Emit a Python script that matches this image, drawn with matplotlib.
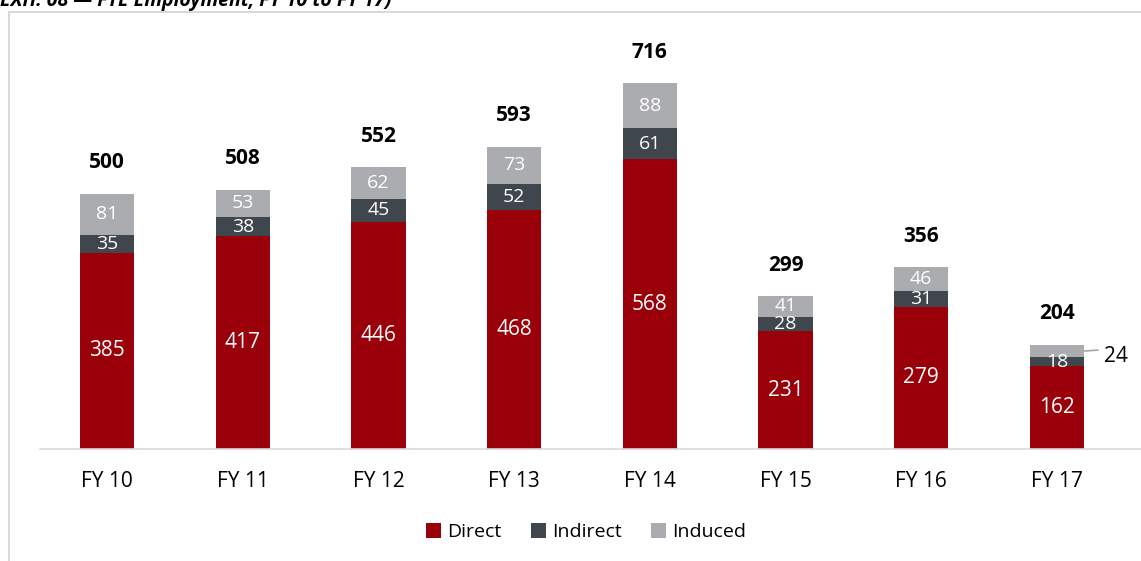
import numpy as np
import matplotlib
matplotlib.use('Agg')
import matplotlib.pyplot as plt
from matplotlib.patches import Rectangle

years = ['FY 10', 'FY 11', 'FY 12', 'FY 13', 'FY 14', 'FY 15', 'FY 16', 'FY 17']
direct = [385, 417, 446, 468, 568, 231, 279, 162]
indirect = [35, 38, 45, 52, 61, 28, 31, 18]
induced = [81, 53, 62, 73, 88, 41, 46, 24]
totals = [500, 508, 552, 593, 716, 299, 356, 204]

c_direct = '#9A0009'
c_indirect = '#3F464E'
c_induced = '#ABACAF'

plt.rcParams['font.family'] = ['Open Sans', 'DejaVu Sans']

W, H = 1141, 561
fig = plt.figure(figsize=(W / 100, H / 100), dpi=100)

# axes placed in pixel terms: baseline at y=449, left edge x=40
ax = fig.add_axes([40 / W, (H - 449) / H, (W - 40) / W, (449 - 12) / H])
x = np.arange(len(years))
w = 0.40
d = np.array(direct)
i_ = np.array(indirect)
n = np.array(induced)

ax.bar(x, d, w, color=c_direct, label='Direct')
ax.bar(x, i_, w, bottom=d, color=c_indirect, label='Indirect')
ax.bar(x, n, w, bottom=d + i_, color=c_induced, label='Induced')

ax.set_xlim(-0.494, 7.619)
ax.set_ylim(0, 857)

fs = 14
for k in range(len(years)):
    ax.text(x[k], d[k] / 2, str(direct[k]), ha='center', va='center',
            color='white', fontsize=fs + 1)
    ax.text(x[k], d[k] + i_[k] / 2, str(indirect[k]), ha='center', va='center',
            color='white', fontsize=fs)
    if k < len(years) - 1:
        ax.text(x[k], d[k] + i_[k] + n[k] / 2, str(induced[k]), ha='center',
                va='center', color='white', fontsize=fs)
    ax.text(x[k], totals[k] + 61, str(totals[k]), ha='center', va='center',
            color='black', fontsize=15, fontweight='bold')

# last induced value sits outside with a leader line
k = len(years) - 1
ymid = d[k] + i_[k] + n[k] / 2
ax.plot([x[k] + w / 2, x[k] + w / 2 + 0.1], [ymid, ymid + 2], color='#A6A6A6', lw=1.2,
        clip_on=False)
ax.text(x[k] + w / 2 + 0.15, ymid - 10, str(induced[k]), ha='left', va='center',
        color='black', fontsize=15)

ax.set_xticks(x)
ax.set_xticklabels(years, fontsize=15)
ax.tick_params(axis='x', length=0, pad=16)
ax.set_yticks([])
for s in ['top', 'right', 'left']:
    ax.spines[s].set_visible(False)
ax.spines['bottom'].set_color('#D9D9D9')
ax.spines['bottom'].set_linewidth(1.2)

fig.legend(loc='center', bbox_to_anchor=(586 / W, 1 - 532 / H), ncol=3, frameon=False,
           fontsize=14, handlelength=0.8, handleheight=0.8, handletextpad=0.3,
           columnspacing=1.5)

# outer frame of the exhibit, running off the right and bottom
fig.patches.append(Rectangle((9 / W, -0.1), 1.2, 1 - 12 / H + 0.1, transform=fig.transFigure,
                             fill=False, edgecolor='#D9D9D9', lw=1.5))

# title, cut off at the top of the image
fig.text(0, 1 - 6 / H, 'EXH. 08 \u2014 FTE Employment, FY 10 to FY 17)', ha='left',
         va='baseline', fontsize=14, fontweight='bold', fontstyle='italic', color='black')

fig.savefig('out.png', dpi=100)
